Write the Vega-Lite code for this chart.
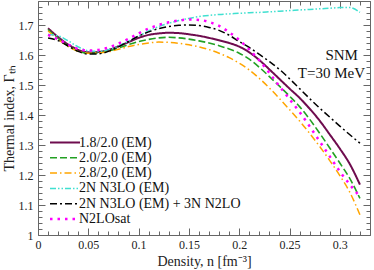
{
  "$schema": "https://vega.github.io/schema/vega-lite/v6.json",
  "width": 332,
  "height": 234,
  "autosize": "none",
  "padding": {"left": 38, "top": 1, "right": 4, "bottom": 35},
  "background": "white",
  "config": {
    "view": {"stroke": null},
    "font": "Liberation Serif",
    "axis": {
      "domainColor": "#666",
      "tickColor": "#666",
      "grid": false,
      "labelFont": "Liberation Serif",
      "titleFont": "Liberation Serif",
      "labelFontSize": 12,
      "titleFontSize": 14,
      "titleFontWeight": "normal",
      "labelColor": "#222",
      "titleColor": "#222",
      "tickSize": 0,
      "labelOverlap": false,
      "labelFlush": false
    }
  },
  "datasets": {
    "curves": [
      {"s":"1.8/2.0 (EM)","n":0.01,"g":1.689},{"s":"1.8/2.0 (EM)","n":0.02,"g":1.660},{"s":"1.8/2.0 (EM)","n":0.03,"g":1.635},{"s":"1.8/2.0 (EM)","n":0.04,"g":1.617},{"s":"1.8/2.0 (EM)","n":0.05,"g":1.609},{"s":"1.8/2.0 (EM)","n":0.06,"g":1.610},{"s":"1.8/2.0 (EM)","n":0.07,"g":1.617},{"s":"1.8/2.0 (EM)","n":0.08,"g":1.629},{"s":"1.8/2.0 (EM)","n":0.09,"g":1.643},{"s":"1.8/2.0 (EM)","n":0.10,"g":1.657},{"s":"1.8/2.0 (EM)","n":0.11,"g":1.667},{"s":"1.8/2.0 (EM)","n":0.12,"g":1.672},{"s":"1.8/2.0 (EM)","n":0.13,"g":1.674},{"s":"1.8/2.0 (EM)","n":0.14,"g":1.673},{"s":"1.8/2.0 (EM)","n":0.15,"g":1.669},{"s":"1.8/2.0 (EM)","n":0.16,"g":1.664},{"s":"1.8/2.0 (EM)","n":0.17,"g":1.657},{"s":"1.8/2.0 (EM)","n":0.18,"g":1.649},{"s":"1.8/2.0 (EM)","n":0.19,"g":1.640},{"s":"1.8/2.0 (EM)","n":0.20,"g":1.628},{"s":"1.8/2.0 (EM)","n":0.21,"g":1.609},{"s":"1.8/2.0 (EM)","n":0.22,"g":1.583},{"s":"1.8/2.0 (EM)","n":0.23,"g":1.552},{"s":"1.8/2.0 (EM)","n":0.24,"g":1.520},{"s":"1.8/2.0 (EM)","n":0.25,"g":1.488},{"s":"1.8/2.0 (EM)","n":0.26,"g":1.457},{"s":"1.8/2.0 (EM)","n":0.27,"g":1.421},{"s":"1.8/2.0 (EM)","n":0.28,"g":1.381},{"s":"1.8/2.0 (EM)","n":0.29,"g":1.335},{"s":"1.8/2.0 (EM)","n":0.30,"g":1.288},{"s":"1.8/2.0 (EM)","n":0.31,"g":1.236},{"s":"1.8/2.0 (EM)","n":0.32,"g":1.168},
      {"s":"2.0/2.0 (EM)","n":0.01,"g":1.685},{"s":"2.0/2.0 (EM)","n":0.02,"g":1.655},{"s":"2.0/2.0 (EM)","n":0.03,"g":1.630},{"s":"2.0/2.0 (EM)","n":0.04,"g":1.613},{"s":"2.0/2.0 (EM)","n":0.05,"g":1.606},{"s":"2.0/2.0 (EM)","n":0.06,"g":1.607},{"s":"2.0/2.0 (EM)","n":0.07,"g":1.613},{"s":"2.0/2.0 (EM)","n":0.08,"g":1.623},{"s":"2.0/2.0 (EM)","n":0.09,"g":1.635},{"s":"2.0/2.0 (EM)","n":0.10,"g":1.645},{"s":"2.0/2.0 (EM)","n":0.11,"g":1.652},{"s":"2.0/2.0 (EM)","n":0.12,"g":1.657},{"s":"2.0/2.0 (EM)","n":0.13,"g":1.659},{"s":"2.0/2.0 (EM)","n":0.14,"g":1.657},{"s":"2.0/2.0 (EM)","n":0.15,"g":1.653},{"s":"2.0/2.0 (EM)","n":0.16,"g":1.647},{"s":"2.0/2.0 (EM)","n":0.17,"g":1.640},{"s":"2.0/2.0 (EM)","n":0.18,"g":1.631},{"s":"2.0/2.0 (EM)","n":0.19,"g":1.620},{"s":"2.0/2.0 (EM)","n":0.20,"g":1.606},{"s":"2.0/2.0 (EM)","n":0.21,"g":1.586},{"s":"2.0/2.0 (EM)","n":0.22,"g":1.559},{"s":"2.0/2.0 (EM)","n":0.23,"g":1.528},{"s":"2.0/2.0 (EM)","n":0.24,"g":1.496},{"s":"2.0/2.0 (EM)","n":0.25,"g":1.463},{"s":"2.0/2.0 (EM)","n":0.26,"g":1.428},{"s":"2.0/2.0 (EM)","n":0.27,"g":1.386},{"s":"2.0/2.0 (EM)","n":0.28,"g":1.339},{"s":"2.0/2.0 (EM)","n":0.29,"g":1.290},{"s":"2.0/2.0 (EM)","n":0.30,"g":1.240},{"s":"2.0/2.0 (EM)","n":0.31,"g":1.188},{"s":"2.0/2.0 (EM)","n":0.32,"g":1.122},
      {"s":"2.8/2,0 (EM)","n":0.01,"g":1.680},{"s":"2.8/2,0 (EM)","n":0.02,"g":1.652},{"s":"2.8/2,0 (EM)","n":0.03,"g":1.628},{"s":"2.8/2,0 (EM)","n":0.04,"g":1.612},{"s":"2.8/2,0 (EM)","n":0.05,"g":1.606},{"s":"2.8/2,0 (EM)","n":0.06,"g":1.607},{"s":"2.8/2,0 (EM)","n":0.07,"g":1.611},{"s":"2.8/2,0 (EM)","n":0.08,"g":1.619},{"s":"2.8/2,0 (EM)","n":0.09,"g":1.628},{"s":"2.8/2,0 (EM)","n":0.10,"g":1.635},{"s":"2.8/2,0 (EM)","n":0.11,"g":1.640},{"s":"2.8/2,0 (EM)","n":0.12,"g":1.643},{"s":"2.8/2,0 (EM)","n":0.13,"g":1.642},{"s":"2.8/2,0 (EM)","n":0.14,"g":1.639},{"s":"2.8/2,0 (EM)","n":0.15,"g":1.634},{"s":"2.8/2,0 (EM)","n":0.16,"g":1.627},{"s":"2.8/2,0 (EM)","n":0.17,"g":1.618},{"s":"2.8/2,0 (EM)","n":0.18,"g":1.606},{"s":"2.8/2,0 (EM)","n":0.19,"g":1.591},{"s":"2.8/2,0 (EM)","n":0.20,"g":1.573},{"s":"2.8/2,0 (EM)","n":0.21,"g":1.550},{"s":"2.8/2,0 (EM)","n":0.22,"g":1.522},{"s":"2.8/2,0 (EM)","n":0.23,"g":1.490},{"s":"2.8/2,0 (EM)","n":0.24,"g":1.455},{"s":"2.8/2,0 (EM)","n":0.25,"g":1.418},{"s":"2.8/2,0 (EM)","n":0.26,"g":1.380},{"s":"2.8/2,0 (EM)","n":0.27,"g":1.339},{"s":"2.8/2,0 (EM)","n":0.28,"g":1.295},{"s":"2.8/2,0 (EM)","n":0.29,"g":1.248},{"s":"2.8/2,0 (EM)","n":0.30,"g":1.198},{"s":"2.8/2,0 (EM)","n":0.31,"g":1.142},{"s":"2.8/2,0 (EM)","n":0.32,"g":1.067},
      {"s":"2N N3LO (EM)","n":0.01,"g":1.668},{"s":"2N N3LO (EM)","n":0.02,"g":1.664},{"s":"2N N3LO (EM)","n":0.03,"g":1.647},{"s":"2N N3LO (EM)","n":0.04,"g":1.627},{"s":"2N N3LO (EM)","n":0.05,"g":1.614},{"s":"2N N3LO (EM)","n":0.06,"g":1.612},{"s":"2N N3LO (EM)","n":0.07,"g":1.618},{"s":"2N N3LO (EM)","n":0.08,"g":1.630},{"s":"2N N3LO (EM)","n":0.09,"g":1.646},{"s":"2N N3LO (EM)","n":0.10,"g":1.663},{"s":"2N N3LO (EM)","n":0.11,"g":1.680},{"s":"2N N3LO (EM)","n":0.12,"g":1.695},{"s":"2N N3LO (EM)","n":0.13,"g":1.706},{"s":"2N N3LO (EM)","n":0.14,"g":1.715},{"s":"2N N3LO (EM)","n":0.15,"g":1.722},{"s":"2N N3LO (EM)","n":0.16,"g":1.728},{"s":"2N N3LO (EM)","n":0.17,"g":1.732},{"s":"2N N3LO (EM)","n":0.18,"g":1.735},{"s":"2N N3LO (EM)","n":0.19,"g":1.737},{"s":"2N N3LO (EM)","n":0.20,"g":1.739},{"s":"2N N3LO (EM)","n":0.21,"g":1.741},{"s":"2N N3LO (EM)","n":0.22,"g":1.742},{"s":"2N N3LO (EM)","n":0.23,"g":1.744},{"s":"2N N3LO (EM)","n":0.24,"g":1.746},{"s":"2N N3LO (EM)","n":0.25,"g":1.748},{"s":"2N N3LO (EM)","n":0.26,"g":1.750},{"s":"2N N3LO (EM)","n":0.27,"g":1.752},{"s":"2N N3LO (EM)","n":0.28,"g":1.754},{"s":"2N N3LO (EM)","n":0.29,"g":1.756},{"s":"2N N3LO (EM)","n":0.30,"g":1.758},{"s":"2N N3LO (EM)","n":0.31,"g":1.758},{"s":"2N N3LO (EM)","n":0.32,"g":1.742},
      {"s":"2N N3LO (EM) + 3N N2LO","n":0.01,"g":1.657},{"s":"2N N3LO (EM) + 3N N2LO","n":0.02,"g":1.648},{"s":"2N N3LO (EM) + 3N N2LO","n":0.03,"g":1.630},{"s":"2N N3LO (EM) + 3N N2LO","n":0.04,"g":1.612},{"s":"2N N3LO (EM) + 3N N2LO","n":0.05,"g":1.603},{"s":"2N N3LO (EM) + 3N N2LO","n":0.06,"g":1.604},{"s":"2N N3LO (EM) + 3N N2LO","n":0.07,"g":1.612},{"s":"2N N3LO (EM) + 3N N2LO","n":0.08,"g":1.627},{"s":"2N N3LO (EM) + 3N N2LO","n":0.09,"g":1.645},{"s":"2N N3LO (EM) + 3N N2LO","n":0.10,"g":1.663},{"s":"2N N3LO (EM) + 3N N2LO","n":0.11,"g":1.677},{"s":"2N N3LO (EM) + 3N N2LO","n":0.12,"g":1.688},{"s":"2N N3LO (EM) + 3N N2LO","n":0.13,"g":1.695},{"s":"2N N3LO (EM) + 3N N2LO","n":0.14,"g":1.699},{"s":"2N N3LO (EM) + 3N N2LO","n":0.15,"g":1.700},{"s":"2N N3LO (EM) + 3N N2LO","n":0.16,"g":1.698},{"s":"2N N3LO (EM) + 3N N2LO","n":0.17,"g":1.692},{"s":"2N N3LO (EM) + 3N N2LO","n":0.18,"g":1.682},{"s":"2N N3LO (EM) + 3N N2LO","n":0.19,"g":1.666},{"s":"2N N3LO (EM) + 3N N2LO","n":0.20,"g":1.645},{"s":"2N N3LO (EM) + 3N N2LO","n":0.21,"g":1.625},{"s":"2N N3LO (EM) + 3N N2LO","n":0.22,"g":1.602},{"s":"2N N3LO (EM) + 3N N2LO","n":0.23,"g":1.578},{"s":"2N N3LO (EM) + 3N N2LO","n":0.24,"g":1.552},{"s":"2N N3LO (EM) + 3N N2LO","n":0.25,"g":1.521},{"s":"2N N3LO (EM) + 3N N2LO","n":0.26,"g":1.488},{"s":"2N N3LO (EM) + 3N N2LO","n":0.27,"g":1.455},{"s":"2N N3LO (EM) + 3N N2LO","n":0.28,"g":1.423},{"s":"2N N3LO (EM) + 3N N2LO","n":0.29,"g":1.393},{"s":"2N N3LO (EM) + 3N N2LO","n":0.30,"g":1.363},{"s":"2N N3LO (EM) + 3N N2LO","n":0.31,"g":1.334},{"s":"2N N3LO (EM) + 3N N2LO","n":0.32,"g":1.306},
      {"s":"N2LOsat","n":0.01,"g":1.667},{"s":"N2LOsat","n":0.02,"g":1.652},{"s":"N2LOsat","n":0.03,"g":1.635},{"s":"N2LOsat","n":0.04,"g":1.620},{"s":"N2LOsat","n":0.05,"g":1.615},{"s":"N2LOsat","n":0.06,"g":1.617},{"s":"N2LOsat","n":0.07,"g":1.625},{"s":"N2LOsat","n":0.08,"g":1.638},{"s":"N2LOsat","n":0.09,"g":1.654},{"s":"N2LOsat","n":0.10,"g":1.672},{"s":"N2LOsat","n":0.11,"g":1.688},{"s":"N2LOsat","n":0.12,"g":1.700},{"s":"N2LOsat","n":0.13,"g":1.709},{"s":"N2LOsat","n":0.14,"g":1.715},{"s":"N2LOsat","n":0.15,"g":1.718},{"s":"N2LOsat","n":0.16,"g":1.717},{"s":"N2LOsat","n":0.17,"g":1.710},{"s":"N2LOsat","n":0.18,"g":1.697},{"s":"N2LOsat","n":0.19,"g":1.676},{"s":"N2LOsat","n":0.20,"g":1.650},{"s":"N2LOsat","n":0.21,"g":1.618},{"s":"N2LOsat","n":0.22,"g":1.582},{"s":"N2LOsat","n":0.23,"g":1.540},{"s":"N2LOsat","n":0.24,"g":1.496},{"s":"N2LOsat","n":0.25,"g":1.453},{"s":"N2LOsat","n":0.26,"g":1.410},{"s":"N2LOsat","n":0.27,"g":1.362},{"s":"N2LOsat","n":0.28,"g":1.312},{"s":"N2LOsat","n":0.29,"g":1.262},{"s":"N2LOsat","n":0.30,"g":1.212},{"s":"N2LOsat","n":0.31,"g":1.168},{"s":"N2LOsat","n":0.32,"g":1.128}
    ],
    "notes": [
      {"t": "SNM", "n": 0.318, "g": 1.60},
      {"t": "T=30 MeV", "n": 0.325, "g": 1.54}
    ]
  },
  "layer": [
    {
      "mark": {"type": "rule", "color": "#999999", "strokeDash": [1, 2], "strokeWidth": 1},
      "encoding": {
        "y": {
          "datum": 1.662,
          "type": "quantitative",
          "scale": {"domain": [1, 1.78], "nice": false, "zero": false},
          "axis": {
            "orient": "right", "labels": false, "title": null,
            "values": [1.0,1.02,1.04,1.06,1.08,1.1,1.12,1.14,1.16,1.18,1.2,1.22,1.24,1.26,1.28,1.3,1.32,1.34,1.36,1.38,1.4,1.42,1.44,1.46,1.48,1.5,1.52,1.54,1.56,1.58,1.6,1.62,1.64,1.66,1.68,1.7,1.72,1.74,1.76,1.78],
            "encoding": {"ticks": {"x2": {"condition": {"test": "abs(datum.value*10-round(datum.value*10))<0.001", "value": -7}, "value": -4}}}
          }
        }
      }
    },
    {
      "data": {"name": "curves"},
      "mark": {"type": "line", "interpolate": "monotone"},
      "encoding": {
        "x": {
          "field": "n", "type": "quantitative",
          "scale": {"domain": [0, 0.33], "nice": false, "zero": false},
          "axis": {
            "orient": "bottom",
            "title": "Density, n [fm⁻³]",
            "values": [0,0.01,0.02,0.03,0.04,0.05,0.06,0.07,0.08,0.09,0.1,0.11,0.12,0.13,0.14,0.15,0.16,0.17,0.18,0.19,0.2,0.21,0.22,0.23,0.24,0.25,0.26,0.27,0.28,0.29,0.3,0.31,0.32,0.33],
            "format": ".2~f",
            "labelExpr": "abs(datum.value*20-round(datum.value*20))<0.001 ? datum.label : ''",
            "labelPadding": 4,
            "titlePadding": 4,
            "encoding": {"ticks": {"y2": {"condition": {"test": "abs(datum.value*20-round(datum.value*20))<0.001", "value": -7}, "value": -4}}}
          }
        },
        "y": {
          "field": "g", "type": "quantitative",
          "axis": {
            "orient": "left",
            "title": "Thermal index, Γₜₕ",
            "values": [1.0,1.02,1.04,1.06,1.08,1.1,1.12,1.14,1.16,1.18,1.2,1.22,1.24,1.26,1.28,1.3,1.32,1.34,1.36,1.38,1.4,1.42,1.44,1.46,1.48,1.5,1.52,1.54,1.56,1.58,1.6,1.62,1.64,1.66,1.68,1.7,1.72,1.74,1.76,1.78],
            "format": ".1~f",
            "labelExpr": "abs(datum.value*10-round(datum.value*10))<0.001 ? datum.label : ''",
            "labelPadding": 5,
            "titlePadding": 2,
            "encoding": {"ticks": {"x2": {"condition": {"test": "abs(datum.value*10-round(datum.value*10))<0.001", "value": 7}, "value": 4}}}
          }
        },
        "color": {
          "field": "s", "type": "nominal",
          "scale": {
            "domain": ["1.8/2.0 (EM)", "2.0/2.0 (EM)", "2.8/2,0 (EM)", "2N N3LO (EM)", "2N N3LO (EM) + 3N N2LO", "N2LOsat"],
            "range": ["#6e0c4e", "#22a022", "#ffa500", "#40e0d0", "#000000", "#ff00ff"]
          },
          "legend": {
            "orient": "none", "legendX": 20, "legendY": 134.5, "title": null,
            "symbolType": "M-3,0H3", "symbolSize": 100, "labelFontSize": 14,
            "labelFont": "Liberation Serif", "labelOffset": 7, "padding": 0,
            "labelColor": "#111", "rowPadding": 1.3, "labelLimit": 0
          }
        },
        "strokeDash": {
          "field": "s", "type": "nominal",
          "scale": {
            "domain": ["1.8/2.0 (EM)", "2.0/2.0 (EM)", "2.8/2,0 (EM)", "2N N3LO (EM)", "2N N3LO (EM) + 3N N2LO", "N2LOsat"],
            "range": [[1, 0], [7, 3], [7, 3, 1.5, 3], [6, 2, 1.5, 2, 1.5, 2], [7, 3, 2, 3], [2.5, 5]]
          }
        },
        "strokeWidth": {
          "field": "s", "type": "nominal",
          "scale": {
            "type": "ordinal",
            "domain": ["1.8/2.0 (EM)", "2.0/2.0 (EM)", "2.8/2,0 (EM)", "2N N3LO (EM)", "2N N3LO (EM) + 3N N2LO", "N2LOsat"],
            "range": [2, 1.6, 1.5, 1.5, 1.5, 2.5]
          }
        }
      }
    },
    {
      "data": {"name": "notes"},
      "mark": {"type": "text", "align": "right", "baseline": "middle", "fontSize": 15, "font": "Liberation Serif", "color": "#111"},
      "encoding": {
        "x": {
          "field": "n", "type": "quantitative",
          "axis": {
            "orient": "top", "labels": false, "title": null,
            "values": [0,0.01,0.02,0.03,0.04,0.05,0.06,0.07,0.08,0.09,0.1,0.11,0.12,0.13,0.14,0.15,0.16,0.17,0.18,0.19,0.2,0.21,0.22,0.23,0.24,0.25,0.26,0.27,0.28,0.29,0.3,0.31,0.32,0.33],
            "encoding": {"ticks": {"y2": {"condition": {"test": "abs(datum.value*20-round(datum.value*20))<0.001", "value": 7}, "value": 4}}}
          }
        },
        "y": {"field": "g", "type": "quantitative", "axis": null},
        "text": {"field": "t"}
      }
    }
  ],
  "resolve": {"axis": {"x": "independent", "y": "independent"}}
}
